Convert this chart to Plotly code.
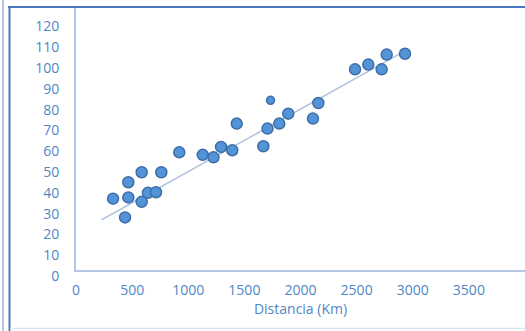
import plotly.graph_objects as go

# Data
distancia_km = [330, 437, 466, 466, 585, 585, 641, 713, 760, 920,
                1129, 1225, 1292, 1392, 1432, 1669, 1706, 1733, 1811, 1891,
                2111, 2159, 2486, 2604, 2723, 2768, 2931]
valor = [34.3, 25.3, 42.2, 34.9, 47.0, 32.8, 37.1, 37.4, 47.0, 56.6,
         55.4, 54.2, 59.2, 57.6, 70.4, 59.5, 68.0, 81.6, 70.4, 75.2,
         72.8, 80.3, 96.5, 98.8, 96.5, 103.6, 104.0]
marker_sizes = [11] * len(distancia_km)
marker_sizes[17] = 8

# linear trend line end points
trend_x = [229, 2940]
trend_y = [24.2, 105.6]

x_ticks = [0, 500, 1000, 1500, 2000, 2500, 3000, 3500]
y_ticks = list(range(0, 121, 10))
x_title = "Distancia (Km)"

W, H = 525, 331
L, R, T, B = 76, 0, 8, 61
pw, ph = W - L - R, H - T - B

def px(xp):
    return (xp - L) / pw

def py(yp):
    return (H - B - yp) / ph

label_color = "#4F87C4"
axis_color = "#B4C7E7"

fig = go.Figure()
fig.add_trace(go.Scatter(x=trend_x, y=trend_y, mode="lines",
                         line=dict(color="#B3C5E2", width=1.6),
                         hoverinfo="skip", showlegend=False))
fig.add_trace(go.Scatter(x=distancia_km, y=valor, mode="markers",
                         marker=dict(size=marker_sizes, color="#5393D8", opacity=1,
                                     line=dict(color="#3D6EA6", width=1.5)),
                         showlegend=False))

shapes = [
    # outer frame lines
    dict(type="line", xref="paper", yref="paper", x0=px(8), x1=px(525), y0=py(7), y1=py(7),
         line=dict(color="#4A78C2", width=2), layer="above"),
    dict(type="line", xref="paper", yref="paper", x0=px(9.5), x1=px(9.5), y0=py(7), y1=py(331),
         line=dict(color="#4A78C2", width=2), layer="above"),
    dict(type="line", xref="paper", yref="paper", x0=px(3), x1=px(3), y0=py(0), y1=py(331),
         line=dict(color="#9FB3D4", width=1.5), layer="above"),
    dict(type="line", xref="paper", yref="paper", x0=px(10), x1=px(525), y0=py(328.5), y1=py(328.5),
         line=dict(color="#DCE5F2", width=1.5), layer="above"),
]

fig.update_layout(
    width=W, height=H,
    margin=dict(l=L, r=R, t=T, b=B),
    paper_bgcolor="white", plot_bgcolor="white",
    font=dict(family="Open Sans", size=14, color=label_color),
    shapes=shapes,
    hovermode=False,
    xaxis=dict(range=[0, 4000], tickvals=x_ticks, showgrid=False, zeroline=False,
               showline=True, linecolor=axis_color, linewidth=2, ticks="",
               ticklabelstandoff=6,
               title=dict(text=x_title, standoff=6, font=dict(size=14, color=label_color))),
    yaxis=dict(range=[0, 126], tickvals=y_ticks, showgrid=False, zeroline=False,
               showline=True, linecolor=axis_color, linewidth=2, ticks="",
               ticklabelstandoff=12, ticklabelshift=6),
)

fig.write_html("out.html", config={"displayModeBar": False},
               post_script="document.body.style.margin='0';document.body.style.overflow='hidden';")
